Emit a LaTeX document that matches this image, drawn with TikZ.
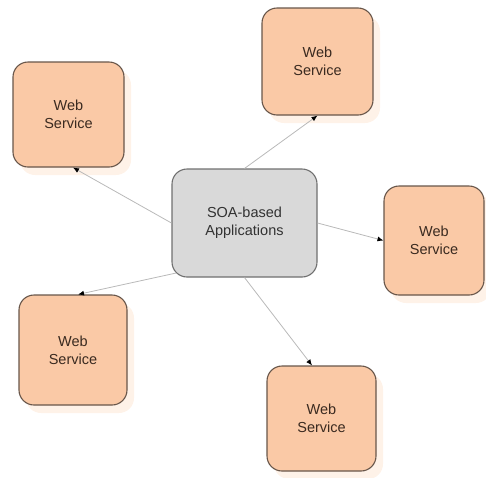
\documentclass[tikz,border=0pt]{standalone}
\usepackage{fontspec}
\setmainfont{Liberation Sans}
\usetikzlibrary{shadows,arrows.meta,calc}

\definecolor{wsfill}{RGB}{250,201,166}
\definecolor{wsdraw}{RGB}{104,86,74}
\definecolor{wstext}{RGB}{58,42,32}
\definecolor{wsshadow}{RGB}{254,242,232}
\definecolor{appfill}{RGB}{217,217,217}
\definecolor{appdraw}{RGB}{112,112,112}
\definecolor{apptext}{RGB}{50,50,50}
\definecolor{linkgray}{RGB}{185,185,185}

\tikzset{
  box/.style={rectangle, rounded corners=15pt, line width=1.1pt, inner sep=0pt,
    align=center, font=\fontsize{14.5}{18}\selectfont},
  wsbox/.style={box, fill=wsfill, draw=wsdraw, text=wstext,
    drop shadow={shadow xshift=7pt, shadow yshift=-8pt, fill=wsshadow, draw=none, opacity=1}},
  appbox/.style={box, fill=appfill, draw=appdraw, text=apptext},
  link/.style={draw=linkgray, line width=0.8pt,
    -{Latex[length=6pt,width=5pt,color=black]}},
}

\begin{document}
\begin{tikzpicture}[x=1pt, y=-1pt]
  \useasboundingbox (0,0) rectangle (486,477);

  \node[appbox, minimum width=145pt, minimum height=108pt] (app) at (244.5,223) {SOA-based\\Applications};

  \node[wsbox, minimum width=111pt, minimum height=105pt] (ws1) at (68.5,114.5) {Web\\Service};
  \node[wsbox, minimum width=111pt, minimum height=107pt] (ws2) at (317.5,61.5) {Web\\Service};
  \node[wsbox, minimum width=100pt, minimum height=109pt] (ws3) at (434,240.5) {Web\\Service};
  \node[wsbox, minimum width=108pt, minimum height=110pt] (ws4) at (73,350) {Web\\Service};
  \node[wsbox, minimum width=109pt, minimum height=105pt] (ws5) at (321.5,418.5) {Web\\Service};

  % point on the rounded lower-left corner of the application box
  \coordinate (appsw) at ($(app.south west)+(4.5pt,4.5pt)$);

  \draw[link] (app.west) -- ($(ws1.south)+(4.5,0)$);
  \draw[link] (app.north) -- (ws2.south);
  \draw[link] (app.east) -- (ws3.west);
  \draw[link] (appsw) -- ($(ws4.north)+(5,0)$);
  \draw[link] (app.south) -- ($(ws5.north)+(-9.5,0)$);
\end{tikzpicture}
\end{document}
